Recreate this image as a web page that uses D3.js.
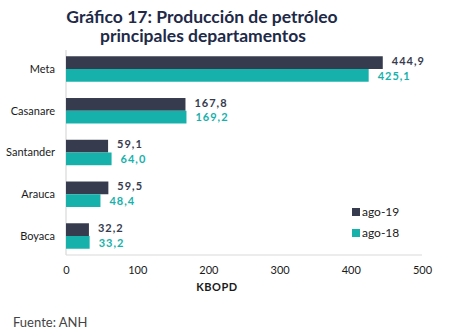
<!DOCTYPE html>
<html><head><meta charset="utf-8">
<script src="https://cdn.jsdelivr.net/npm/d3@7"></script>
<style>body{margin:0;background:#fff;}svg{display:block;}</style>
</head><body>
<svg id="c" width="460" height="336"></svg>
<script>
const categories = ["Meta","Casanare","Santander","Arauca","Boyaca"];
const seriesNames = ["ago-19","ago-18"];
const ago19 = [444.9,167.8,59.1,59.5,32.2];
const ago18 = [425.1,169.2,64.0,48.4,33.2];
const xTicks = [0,100,200,300,400,500];
const colors = ["#363c4e","#16b1ab"];
const fmt = v => v.toFixed(1).replace(".", ",");

const svg = d3.select("#c");
const font = "Lato, 'Open Sans', sans-serif";
const x = d3.scaleLinear().domain([0,500]).range([66,422]);
const y = d3.scaleBand().domain(categories).range([50,255]).paddingInner(0.39).paddingOuter(0.15);
const sub = d3.scaleBand().domain(seriesNames).range([0,y.bandwidth()]);

// title
svg.append("text").attr("x",202).attr("y",23).attr("text-anchor","middle")
  .attr("font-family",font).attr("font-weight","bold").attr("font-size",17.5).attr("fill","#1e2a47")
  .text("Gráfico 17: Producción de petróleo");
svg.append("text").attr("x",203).attr("y",42).attr("text-anchor","middle")
  .attr("font-family",font).attr("font-weight","bold").attr("font-size",17.5).attr("fill","#1e2a47")
  .text("principales departamentos");

// axes lines
svg.append("line").attr("x1",66).attr("x2",66).attr("y1",50).attr("y2",255).attr("stroke","#d9d9d9").attr("stroke-width",1.2);
svg.append("line").attr("x1",66).attr("x2",422).attr("y1",255).attr("y2",255).attr("stroke","#d9d9d9").attr("stroke-width",1.2);

const data = [ago19, ago18];
categories.forEach((c,i)=>{
  seriesNames.forEach((s,j)=>{
    const v = data[j][i];
    svg.append("rect").attr("x",x(0)).attr("y",y(c)+sub(s)).attr("width",x(v)-x(0)).attr("height",sub.bandwidth())
      .attr("fill",colors[j]);
    svg.append("text").attr("x",x(v)+9).attr("y",y(c)+sub(s)+sub.bandwidth()/2 - (j===0?1.5:-0.5)).attr("dy","0.35em")
      .attr("font-family",font).attr("font-weight","bold").attr("font-size",11).attr("letter-spacing",1)
      .attr("fill",colors[j]).text(fmt(v));
  });
  svg.append("text").attr("x",55).attr("y",y(c)+y.bandwidth()/2).attr("dy","0.35em").attr("text-anchor","end")
    .attr("font-family",font).attr("font-size",11).attr("fill","#1a1a1a").text(c);
});

// x ticks
const ax = svg.append("g").attr("transform","translate(0,255)").call(d3.axisBottom(x).tickValues(xTicks).tickSize(0).tickPadding(11));
ax.select(".domain").remove();
ax.selectAll("text").attr("font-family",font).attr("font-size",11).attr("fill","#1a1a1a");

svg.append("text").attr("x",217).attr("y",291).attr("text-anchor","middle")
  .attr("font-family",font).attr("font-weight","bold").attr("font-size",11).attr("letter-spacing",0.5).attr("fill","#1a1a1a").text("KBOPD");

// legend
seriesNames.forEach((s,j)=>{
  const ly = 208 + j*21;
  svg.append("rect").attr("x",352).attr("y",ly).attr("width",8).attr("height",8).attr("fill",colors[j]);
  svg.append("text").attr("x",362).attr("y",ly+4).attr("dy","0.35em")
    .attr("font-family",font).attr("font-size",12).attr("fill","#1a1a1a").text(s);
});

svg.append("text").attr("x",13).attr("y",322).attr("dy","0.35em")
  .attr("font-family",font).attr("font-size",13).attr("fill","#444").text("Fuente: ANH");
</script>
</body></html>
